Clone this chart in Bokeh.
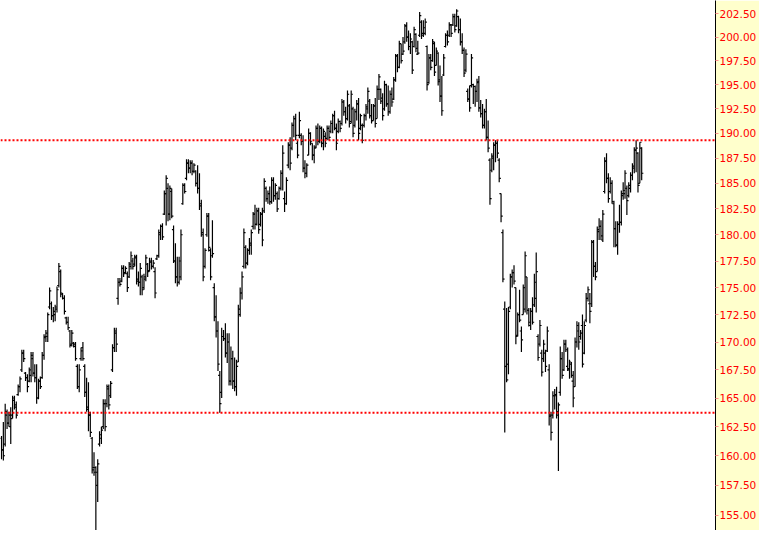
from bokeh.plotting import figure
from bokeh.models import Range1d, FixedTicker, PrintfTickFormatter, Span, ColumnDataSource
from bokeh.embed import file_html
from bokeh.resources import INLINE

# ---- daily OHLC values ----
opens = [
    161.5,160.5,161.0,163.5,162.8,162.5,163.5,164.8,164.2,
    165.3,166.0,167.5,169.0,167.2,166.8,166.5,167.0,168.5,
    167.2,166.8,165.0,166.5,166.8,168.8,170.5,170.5,173.2,173.5,
    172.4,172.5,173.0,175.2,176.5,174.4,174.0,172.2,171.8,171.0,
    169.8,169.9,169.8,167.8,166.0,168.5,169.5,167.8,165.5,164.0,
    163.5,161.5,159.0,159.0,157.5,161.0,161.5,162.5,164.5,164.5,
    165.8,165.2,167.5,169.5,170.8,174.0,175.5,175.6,176.8,
    176.4,176.3,176.0,177.0,177.5,177.2,177.8,175.8,175.5,
    176.0,175.0,176.0,177.2,176.6,177.4,177.0,176.5,177.7,
    178.0,180.0,180.8,182.0,184.0,184.5,182.0,184.2,180.5,177.5,
    176.0,175.5,176.0,183.0,184.8,185.5,187.0,186.5,187.0,186.2,
    186.2,185.0,184.5,183.0,180.0,177.0,180.0,181.8,178.5,178.0,
    175.0,172.3,171.0,167.0,165.5,170.5,170.3,169.0,170.0,166.5,
    168.5,166.5,166.0,
    168.2,172.5,174.5,177.0,178.8,177.3,178.5,179.0,180.8,182.0,
    181.0,182.3,181.0,182.0,182.3,184.5,183.5,184.0,183.2,
    185.3,183.8,184.0,183.5,184.5,186.0,183.5,183.0,186.8,188.8,
    188.5,190.8,191.5,189.0,189.8,189.8,189.2,186.5,186.0,187.8,
    190.0,189.0,187.8,188.6,190.5,189.2,190.5,189.0,189.7,189.5,
    190.5,190.2,191.0,191.8,190.5,190.2,191.2,191.0,193.2,192.2,
    191.5,192.8,191.2,192.5,190.8,192.2,
    193.0,190.5,190.8,190.8,191.8,192.5,193.3,191.8,191.3,192.8,
    191.5,194.5,194.5,193.6,192.5,195.0,193.0,192.2,194.0,
    193.5,195.5,198.0,196.8,199.3,198.2,199.5,201.2,200.0,199.0,
    199.5,199.0,200.3,198.2,200.2,201.6,200.4,200.4,199.0,
    195.2,197.8,197.5,199.3,197.0,198.3,195.5,193.8,196.0,199.0,
    200.2,200.2,201.3,201.3,202.2,201.2,202.2,200.8,199.5,198.6,
    196.5,194.3,193.5,194.9,195.0,194.8,194.3,195.3,192.6,192.0,
    190.8,192.2,
    189.6,187.3,186.3,187.5,188.8,189.0,187.3,184.0,180.2,173.0,
    167.8,168.0,173.2,176.0,176.4,175.0,170.6,172.5,171.0,172.5,
    173.0,176.0,172.9,171.5,172.8,173.4,174.0,170.5,169.8,169.0,
    168.5,169.0,169.2,167.5,163.5,163.5,165.2,165.2,163.5,165.5,168.5,
    167.5,169.8,167.8,167.5,168.0,166.5,166.0,170.0,171.0,170.5,171.5,
    169.0,172.0,174.0,173.5,
    173.5,179.3,177.0,176.5,180.3,180.8,179.5,184.2,187.2,185.5,
    184.2,185.0,183.0,180.6,179.0,181.0,181.2,184.0,184.0,184.5,183.8,
    184.5,185.8,186.5,188.3,188.0,185.0,188.5,
]
highs = [
    161.7,162.9,164.5,164.0,163.8,164.2,165.2,165.2,164.7,
    166.2,166.9,169.3,169.3,167.3,167.1,167.7,169.1,169.1,
    168.0,168.0,166.7,166.9,169.1,170.7,171.1,172.7,175.0,173.7,
    173.2,173.4,175.1,177.3,176.7,174.5,174.3,172.3,172.3,171.1,
    171.1,170.0,170.0,168.0,168.0,169.5,170.0,168.0,166.8,166.4,
    163.8,161.6,160.3,159.1,159.7,162.1,162.5,164.9,164.9,166.2,
    166.2,166.5,169.8,171.3,171.3,175.9,175.9,177.1,177.1,
    177.0,176.5,177.4,178.4,177.8,178.1,178.1,176.5,177.3,
    176.2,176.3,178.1,177.3,177.8,177.8,177.6,176.9,178.1,
    180.5,181.0,181.1,184.3,185.8,185.0,184.8,184.5,180.9,179.2,
    177.9,177.9,180.5,185.0,185.0,187.4,187.4,187.3,187.3,187.0,
    186.3,186.8,186.0,183.4,180.6,178.7,182.1,182.1,178.7,181.4,
    175.4,174.3,171.9,167.4,171.3,171.1,171.7,170.8,170.8,169.6,
    169.2,168.6,168.4,
    173.4,175.0,176.5,180.6,179.0,178.7,179.7,180.5,182.2,182.9,
    182.6,182.6,182.2,182.6,185.5,184.7,184.3,184.7,185.6,
    185.6,185.0,184.2,184.7,186.3,188.8,184.2,185.6,189.1,189.6,
    191.1,191.8,192.0,189.3,192.2,190.0,189.8,187.3,187.0,190.5,
    190.1,189.0,188.8,190.8,191.0,190.8,190.7,190.5,190.1,190.8,
    190.8,191.3,192.0,192.3,191.0,191.5,191.3,193.5,193.4,192.7,
    194.4,193.0,194.4,192.7,192.5,193.4,
    193.6,192.0,191.0,192.0,193.0,194.7,193.5,193.0,193.0,193.6,
    194.9,196.1,194.6,194.1,195.4,195.1,194.9,194.4,194.7,
    195.8,198.2,198.2,199.6,199.3,200.0,201.4,201.6,200.7,200.4,
    199.6,201.1,200.4,199.6,202.7,201.8,201.8,202.0,199.1,
    198.2,198.2,199.8,199.5,198.9,198.4,197.0,195.9,198.2,200.4,
    200.7,201.6,201.4,202.5,202.5,203.0,202.3,202.0,200.4,198.9,
    198.7,194.6,194.9,198.2,195.1,194.9,195.6,195.9,193.4,193.0,
    192.5,193.5,
    191.3,187.5,188.0,189.1,189.3,189.3,187.5,184.0,180.5,173.7,
    173.1,173.2,176.3,176.7,177.1,175.0,172.7,174.8,171.4,175.3,
    178.4,176.0,173.1,173.1,174.1,176.3,178.3,170.7,172.0,169.3,
    170.2,169.3,171.4,168.0,163.8,165.6,165.8,166.0,164.6,169.6,169.1,
    170.2,170.2,169.5,168.4,168.2,167.4,170.4,171.9,171.8,171.1,172.5,
    171.9,174.5,175.1,174.5,
    179.5,179.5,177.4,180.8,181.6,181.4,182.4,187.6,188.0,186.0,
    185.6,185.3,183.3,181.3,181.3,182.9,184.3,185.1,186.3,184.8,185.1,
    186.1,187.0,188.6,189.3,188.1,189.1,188.6,
]
lows = [
    159.7,159.6,160.8,162.3,162.5,161.0,163.2,164.0,163.2,
    165.2,165.5,167.3,168.2,166.5,165.5,166.4,166.4,166.9,
    166.4,164.5,164.9,165.8,166.7,168.4,170.0,170.0,173.0,172.0,
    171.8,171.9,172.7,175.0,174.1,173.9,172.5,171.6,171.1,169.5,
    169.6,169.5,168.3,165.8,165.5,168.3,168.3,165.1,163.8,162.1,
    161.6,158.5,158.3,153.8,156.1,160.8,161.0,162.3,162.1,164.2,
    164.0,165.0,167.3,169.1,169.1,173.4,175.1,175.5,176.0,
    176.3,174.6,175.9,176.7,176.7,177.0,175.3,175.1,174.3,
    174.3,174.8,175.6,176.0,176.5,176.7,176.8,174.0,177.6,
    177.8,179.5,179.5,181.9,180.9,181.3,181.4,181.6,177.3,175.4,
    175.1,175.3,175.7,182.9,184.0,185.3,186.0,186.0,185.8,186.0,
    184.7,184.0,182.4,179.8,175.6,176.8,179.8,178.4,175.7,177.8,
    171.9,170.4,167.4,163.7,165.0,170.1,168.6,168.1,166.1,166.1,
    165.8,165.6,165.2,
    168.2,172.3,173.9,176.8,176.8,177.1,178.1,178.1,180.5,180.5,
    180.9,180.1,180.8,178.9,182.1,183.2,183.0,182.9,183.0,
    183.2,183.4,182.2,183.4,184.3,184.3,182.2,182.9,186.5,186.3,
    188.3,189.6,189.3,187.5,189.5,188.8,186.1,185.5,185.6,187.8,
    188.8,187.3,187.0,188.5,188.8,189.0,188.6,188.3,188.6,189.3,
    189.3,190.0,190.0,190.3,188.3,190.0,190.1,190.8,191.8,191.0,
    191.3,190.6,191.0,189.6,190.6,191.3,
    189.3,190.3,189.0,190.6,191.3,192.0,191.5,191.0,191.3,190.6,
    191.5,193.4,193.0,191.3,192.3,192.7,191.8,192.0,192.7,
    193.4,195.3,196.3,196.7,197.2,198.1,199.3,199.5,198.6,198.2,
    196.1,198.9,198.4,198.1,200.0,199.8,200.0,200.2,194.4,
    195.1,196.5,197.4,195.9,197.0,194.9,193.2,191.8,195.9,198.9,
    199.1,200.0,200.0,201.2,200.5,201.1,200.4,199.1,198.2,195.8,
    196.3,193.2,192.2,194.7,193.0,192.7,193.2,192.2,191.6,190.5,
    190.5,189.3,
    188.1,182.9,186.1,186.3,187.1,187.5,185.1,181.2,175.5,162.0,
    166.4,167.1,173.0,175.0,175.3,169.8,170.5,171.8,169.1,172.5,
    172.7,172.5,171.4,171.1,171.6,173.2,172.7,168.3,169.6,166.9,
    168.2,167.3,169.1,162.6,161.3,163.2,164.0,163.2,158.7,165.2,166.7,
    167.4,169.1,167.4,166.7,166.8,164.2,166.0,169.5,169.3,170.2,167.7,
    168.9,171.8,173.7,171.7,
    173.2,176.0,175.7,176.5,179.5,179.5,179.3,184.0,185.0,183.1,
    184.0,183.0,178.8,178.8,178.1,180.2,180.9,183.4,183.5,181.9,183.6,
    184.1,185.3,186.0,186.1,184.1,185.0,185.3,
]
closes = [
    160.5,160.0,163.8,162.8,163.5,163.2,165.0,164.4,163.5,
    166.0,166.7,169.0,168.5,166.8,166.0,167.5,168.8,167.2,
    166.8,165.0,166.5,166.0,168.8,170.4,170.8,172.5,174.7,172.4,
    172.8,173.2,174.8,177.0,174.5,174.0,172.8,171.8,171.3,169.7,
    170.8,169.6,168.5,166.0,167.5,169.2,168.5,165.5,164.2,163.5,
    162.0,158.8,158.6,158.6,159.3,161.8,162.2,164.5,162.5,166.0,
    164.4,166.3,169.5,171.0,169.8,175.5,175.3,176.8,176.3,
    176.8,175.0,177.2,178.0,177.0,177.9,175.6,175.5,176.8,
    174.8,175.8,177.8,176.5,177.5,177.0,177.3,174.5,178.0,
    180.2,180.8,179.8,184.0,185.5,182.0,184.5,181.8,177.5,176.0,
    175.5,177.5,180.0,184.8,184.2,187.0,186.5,187.0,186.2,186.8,
    185.0,184.5,182.8,180.2,176.0,178.5,181.8,178.8,176.0,178.2,
    172.3,171.0,168.0,164.5,170.5,170.3,169.0,170.0,166.5,168.5,
    166.5,166.0,167.8,
    173.0,174.5,176.0,180.2,177.3,178.5,179.2,180.2,182.0,181.0,
    182.3,180.5,182.0,179.5,185.2,183.5,184.0,183.2,185.3,
    183.8,184.8,182.5,184.5,186.0,188.0,183.0,185.3,188.8,187.0,
    190.8,191.5,189.8,187.8,191.3,189.2,186.5,186.0,186.8,190.0,
    189.2,187.8,188.5,190.5,189.2,190.5,189.0,190.2,189.0,190.5,
    189.6,191.0,191.8,190.5,189.0,191.2,190.5,193.2,192.2,191.5,
    194.0,191.0,194.0,190.0,192.2,193.0,
    190.0,191.8,189.3,191.8,192.7,194.3,191.8,191.3,192.8,191.0,
    194.5,195.8,193.3,191.8,195.0,193.0,192.2,194.0,193.2,
    195.5,198.0,196.8,199.3,197.5,198.5,201.2,200.0,199.0,199.8,
    196.5,200.8,198.8,198.3,202.3,200.2,201.0,201.6,195.0,
    197.8,196.8,199.5,196.3,198.5,195.3,193.8,192.3,197.8,200.2,
    199.5,201.3,200.4,202.2,200.8,202.8,200.8,199.5,198.6,196.2,
    198.2,193.5,192.6,197.8,194.8,194.3,195.2,192.6,192.0,190.8,
    192.2,189.6,
    188.5,183.5,187.7,188.8,189.0,188.0,185.5,181.8,175.8,167.8,
    166.6,172.8,176.0,176.4,175.6,170.5,172.5,172.0,170.2,175.0,
    178.0,172.9,171.8,172.8,171.8,175.5,176.5,168.6,171.5,167.3,
    169.8,167.8,171.0,163.4,162.0,165.2,165.3,163.8,164.4,168.5,167.0,
    169.8,169.3,167.6,168.2,167.0,165.0,170.0,171.5,170.0,170.8,168.0,
    171.5,174.0,174.8,172.8,
    179.3,177.0,176.0,180.5,180.8,179.9,182.0,187.2,185.5,183.5,
    185.0,183.2,180.6,179.0,181.0,181.2,183.8,184.3,186.0,183.3,184.8,
    185.8,186.7,188.3,188.5,184.8,189.1,186.0,
]

resistance_level = 189.3
support_level = 163.7
tick_values = [155.0, 157.5, 160.0, 162.5, 165.0, 167.5, 170.0, 172.5, 175.0, 177.5,
               180.0, 182.5, 185.0, 187.5, 190.0, 192.5, 195.0, 197.5, 200.0, 202.5]

n = len(opens)
idx = list(range(n))
half = 0.9
src = ColumnDataSource(dict(
    x=idx,
    xl=[i - half for i in idx],
    xr=[i + half for i in idx],
    o=opens, h=highs, l=lows, c=closes,
))

p = figure(width=759, height=530, y_axis_type="log", y_axis_location="right",
           x_axis_location=None,
           x_range=Range1d(-0.54, 385.9), y_range=Range1d(153.75, 203.94),
           output_backend="svg", toolbar_location=None,
           min_border_left=0, min_border_top=0, min_border_bottom=0, min_border_right=0)
p.background_fill_color = "white"
p.border_fill_color = "#FFFFCC"
p.outline_line_color = None
p.grid.visible = False

p.segment(x0="x", y0="l", x1="x", y1="h", source=src, line_color="black", line_width=1.2)
p.segment(x0="xl", y0="o", x1="x", y1="o", source=src, line_color="black", line_width=1.2)
p.segment(x0="x", y0="c", x1="xr", y1="c", source=src, line_color="black", line_width=1.2)

for lvl in (resistance_level, support_level):
    p.add_layout(Span(location=lvl, dimension="width", line_color="#FF0000",
                      line_dash="2 2", line_width=2))

ax = p.yaxis[0]
ax.ticker = FixedTicker(ticks=tick_values)
ax.formatter = PrintfTickFormatter(format="%.2f")
ax.axis_line_color = "black"
ax.axis_line_width = 1
ax.major_tick_line_color = "#FF9090"
ax.major_tick_out = 3
ax.major_tick_in = 0
ax.minor_tick_line_color = None
ax.major_label_standoff = 1
ax.major_label_text_color = "#FF0000"
ax.major_label_text_font = "DejaVu Sans"
ax.major_label_text_font_size = "10.5px"

open("out.html", "w").write(file_html(p, INLINE))
